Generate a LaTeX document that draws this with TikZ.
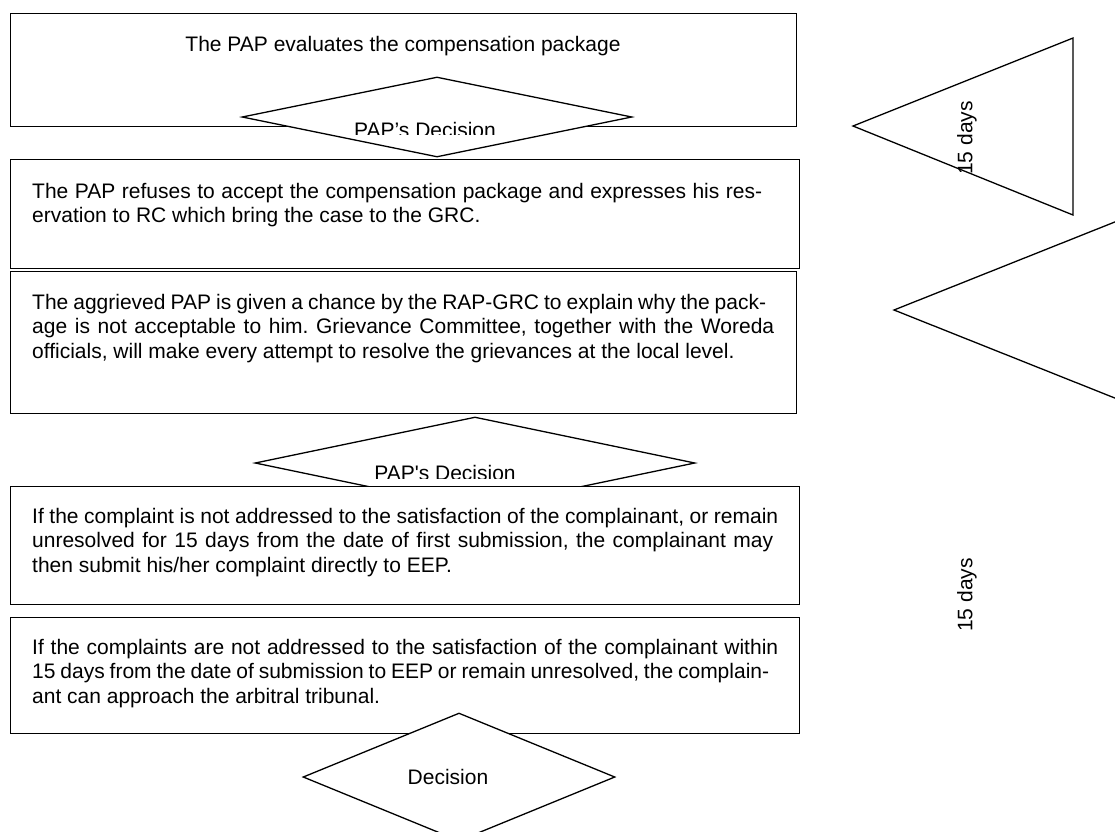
\documentclass[tikz,border=0pt]{standalone}
\usepackage{fontspec}
\setmainfont{Liberation Sans}[Ligatures={TeX,NoCommon}]
\usetikzlibrary{shapes.geometric}
\newcommand{\fs}{\fontsize{21pt}{24.8pt}\selectfont\frenchspacing}
\newcommand{\jl}[2]{\makebox[#1][s]{#2}}
\begin{document}
\begin{tikzpicture}[x=1pt,y=-1pt,
  box/.style={draw=black, fill=white, rectangle, inner sep=0pt, anchor=north west, line width=1.3pt},
  dec/.style={draw=black, fill=white, diamond, inner sep=0pt, line width=1.3pt},
  txt/.style={inner sep=0pt, anchor=base west, font=\fs},
  ctxt/.style={inner sep=0pt, anchor=base, font=\fs},
  tri/.style={draw=black, line width=1.3pt, line join=miter}]
\useasboundingbox (0,0) rectangle (1115,831);
\clip (0,0) rectangle (1115,831);

% box 1 and first decision
\node[box, minimum width=786pt, minimum height=113pt] (b1) at (10,13) {};
\node[ctxt] (t1) at (403,51) {The PAP evaluates the compensation package};
\node[dec, minimum width=390pt, minimum height=80pt] (d1) at (437,117) {};
\begin{scope}
  \clip (300,100) rectangle (600,134);
  \node[ctxt] (dt1) at (425,137) {PAP’s Decision};
\end{scope}

% box 2
\node[box, minimum width=789pt, minimum height=109pt] (b2) at (10,159) {};
\node[txt] (t2) at (32,198) {\parbox[t]{760pt}{\frenchspacing
\jl{730pt}{The PAP refuses to accept the compensation package and expresses his res-}\\
ervation to RC which bring the case to the GRC.}};

% box 3
\node[box, minimum width=786pt, minimum height=142pt] (b3) at (10,271) {};
\node[txt] (t3) at (32,309) {\parbox[t]{760pt}{\frenchspacing
\jl{734pt}{The aggrieved PAP is given a chance by the RAP-GRC to explain why the pack-}\\
\jl{742pt}{age is not acceptable to him. Grievance Committee, together with the Woreda}\\
officials, will make every attempt to resolve the grievances at the local level.}};

% second decision (partly hidden by box 4)
\node[dec, minimum width=440pt, minimum height=92pt] (d2) at (475,463) {};
\begin{scope}
  \clip (300,440) rectangle (650,478);
  \node[ctxt] (dt2) at (445,480) {PAP\textquotesingle s Decision};
\end{scope}

% box 4
\node[box, minimum width=789pt, minimum height=118pt] (b4) at (10,486) {};
\node[txt] (t4) at (32,523) {\parbox[t]{760pt}{\frenchspacing
\jl{746pt}{If the complaint is not addressed to the satisfaction of the complainant, or remain}\\
\jl{741pt}{unresolved for 15 days from the date of first submission, the complainant may}\\
then submit his/her complaint directly to EEP.}};

% box 5
\node[box, minimum width=789pt, minimum height=116pt] (b5) at (10,617) {};
\node[txt] (t5) at (32,654) {\parbox[t]{760pt}{\frenchspacing
\jl{746pt}{If the complaints are not addressed to the satisfaction of the complainant within}\\
\jl{737pt}{15 days from the date of submission to EEP or remain unresolved, the complain-}\\
ant can approach the arbitral tribunal.}};

% final decision
\node[dec, minimum width=312pt, minimum height=128pt] (d3) at (459,777) {};
\node[ctxt] (dt3) at (448,784) {Decision};

% right side triangles
\coordinate (ta1) at (853,126);
\coordinate (ta2) at (1073,38);
\coordinate (ta3) at (1073,215);
\draw[tri] (ta1) -- (ta2) -- (ta3) -- cycle;
\coordinate (tb1) at (894,310);
\coordinate (tb2) at (1180,196);
\coordinate (tb3) at (1180,424);
\draw[tri] (tb1) -- (tb2) -- (tb3) -- cycle;
\node[rotate=90, font=\fs, inner sep=0pt] (days1) at (967,138) {15 days};
\node[rotate=90, font=\fs, inner sep=0pt] (days2) at (967,595) {15 days};
\end{tikzpicture}
\end{document}
